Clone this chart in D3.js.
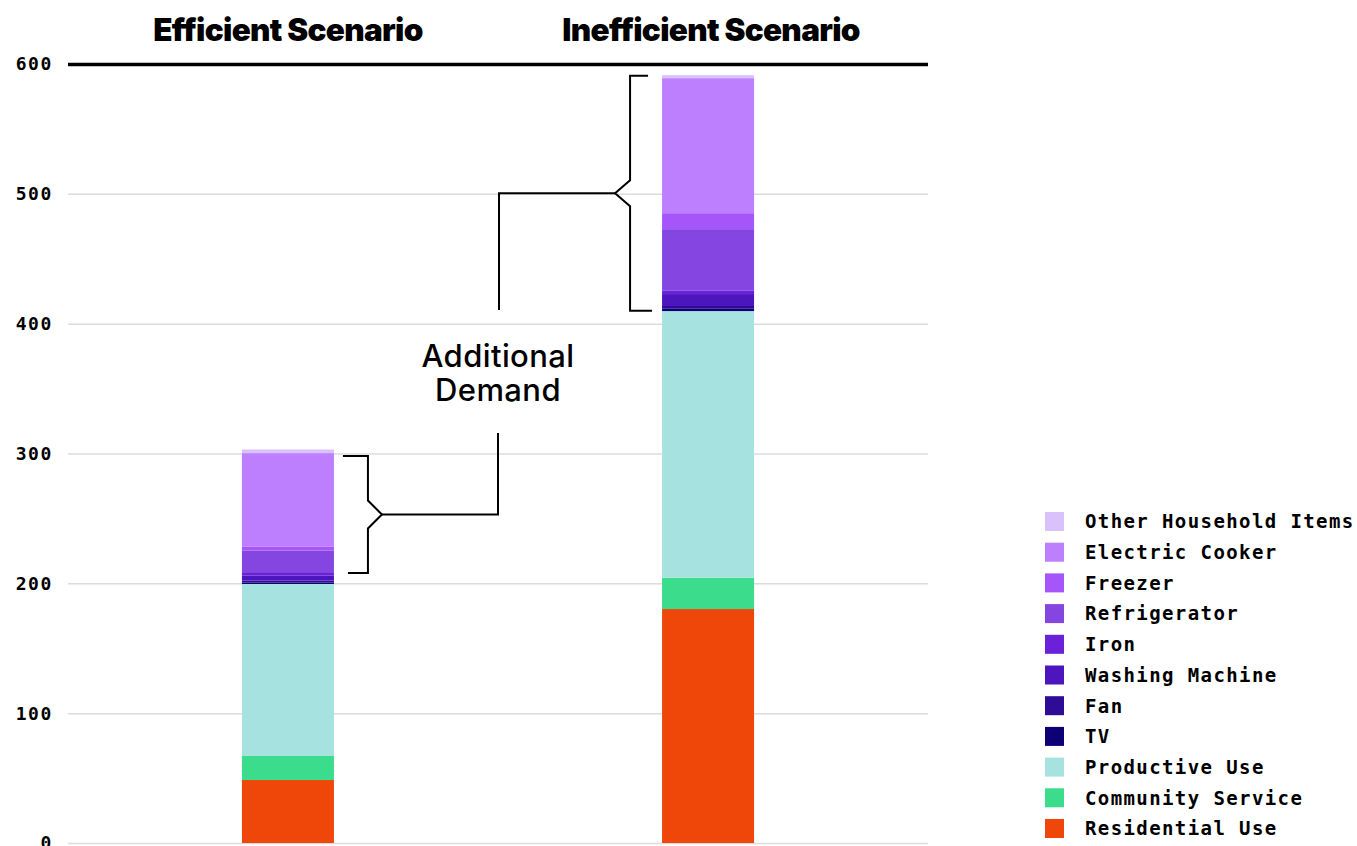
<!DOCTYPE html>
<html>
<head>
<meta charset="utf-8">
<script src="https://cdn.jsdelivr.net/npm/d3@7"></script>
<style>
  html, body { margin: 0; padding: 0; background: #fff; }
  svg { display: block; }
</style>
</head>
<body>
<div class="container"></div>
<script>
const scenarios = ['Efficient Scenario', 'Inefficient Scenario']
const seriesNames = ['Residential Use', 'Community Service', 'Productive Use', 'TV', 'Fan',
  'Washing Machine', 'Iron', 'Refrigerator', 'Freezer', 'Electric Cooker', 'Other Household Items']
const efficientValues = [48.5, 18.5, 132.5, 1.2, 1.5, 3.9, 2.5, 16.7, 3.1, 71.9, 2.8]
const inefficientValues = [180.2, 24.1, 205.4, 1.8, 2.1, 9.2, 2.5, 47.5, 12.3, 104, 2.3]
const seriesColors = ['#ef4609', '#3bdc8b', '#a6e3e0', '#0d0077', '#2f0c98', '#4c15be',
  '#6b21d9', '#8545e0', '#a655fa', '#be7ffe', '#d9c2fc']
const yTicks = [0, 100, 200, 300, 400, 500, 600]
const bracketRanges = [[208, 298], [410, 591]]
const annotationLines = ['Additional', 'Demand']

const w = 1357
const h = 846
const plotLeft = 68
const plotRight = 928
const plotTop = 64
const plotBottom = 843

const svg = d3.select('.container')
  .append('svg')
  .attr('width', w)
  .attr('height', h)

const rows = scenarios.map((s, i) => {
  const row = { scenario: s }
  seriesNames.forEach((n, j) => { row[n] = [efficientValues, inefficientValues][i][j] })
  return row
})

const stacked = d3.stack().keys(seriesNames)(rows)

const xScale = d3.scaleBand()
  .domain(scenarios)
  .range([plotLeft, plotRight])
  .paddingInner(0.781)
  .paddingOuter(0.414)

const yScale = d3.scaleLinear()
  .domain([0, 600])
  .range([plotBottom, plotTop])

const color = d3.scaleOrdinal().domain(seriesNames).range(seriesColors)

// grid
const grid = svg.append('g')
  .attr('transform', `translate(${plotLeft}, 0)`)
  .call(d3.axisLeft(yScale).tickValues(yTicks).tickSize(-(plotRight - plotLeft)).tickFormat(''))
grid.select('.domain').remove()
grid.selectAll('line')
  .attr('stroke', d => d === 600 ? '#000' : '#dcdcdc')
  .attr('stroke-width', d => d === 600 ? 3.5 : 1.5)

// tick labels
svg.append('g')
  .selectAll('text')
  .data(yTicks)
  .enter()
  .append('text')
  .attr('x', 53)
  .attr('y', d => yScale(d))
  .attr('dy', '0.36em')
  .attr('text-anchor', 'end')
  .attr('font-family', 'DejaVu Sans Mono, monospace')
  .attr('font-weight', 'bold')
  .attr('font-size', 18)
  .attr('letter-spacing', 1.6)
  .text(d => d)

// bars
svg.append('g')
  .selectAll('g')
  .data(stacked)
  .enter()
  .append('g')
  .attr('fill', d => color(d.key))
  .selectAll('rect')
  .data(d => d)
  .enter()
  .append('rect')
  .attr('x', d => xScale(d.data.scenario))
  .attr('width', xScale.bandwidth())
  .attr('y', d => yScale(d[1]))
  .attr('height', d => yScale(d[0]) - yScale(d[1]))

// titles
svg.append('g')
  .selectAll('text')
  .data(scenarios)
  .enter()
  .append('text')
  .attr('x', (d, i) => xScale(d) + xScale.bandwidth() / 2 + i * 3)
  .attr('y', 41)
  .attr('text-anchor', 'middle')
  .attr('font-family', 'Inter, sans-serif')
  .attr('font-weight', 900)
  .attr('font-size', 31.5)
  .attr('letter-spacing', -0.7)
  .text(d => d)

// brackets
const effX = xScale(scenarios[0]) + xScale.bandwidth()
const ineffX = xScale(scenarios[1])
const midX = (effX + ineffX) / 2
const b0 = bracketRanges[0].map(yScale)
const b1 = bracketRanges[1].map(yScale)
const m0 = (b0[0] + b0[1]) / 2
const m1 = (b1[0] + b1[1]) / 2
const line = d3.line()

const paths = [
  [[effX + 9, b0[1]], [effX + 34, b0[1]], [effX + 34, m0 - 14], [effX + 48, m0],
    [effX + 34, m0 + 14], [effX + 34, b0[0]], [effX + 14, b0[0]]],
  [[effX + 48, m0], [midX, m0], [midX, 433]],
  [[ineffX - 14, b1[1]], [ineffX - 32, b1[1]], [ineffX - 32, m1 - 13], [ineffX - 47, m1],
    [ineffX - 32, m1 + 13], [ineffX - 32, b1[0]], [ineffX - 10, b1[0]]],
  [[ineffX - 47, m1], [midX + 1, m1], [midX + 1, 310]]
]

svg.append('g')
  .selectAll('path')
  .data(paths)
  .enter()
  .append('path')
  .attr('d', d => line(d))
  .attr('fill', 'none')
  .attr('stroke', '#000')
  .attr('stroke-width', 2)

svg.append('text')
  .attr('x', midX)
  .attr('text-anchor', 'middle')
  .attr('font-family', 'Inter, sans-serif')
  .attr('font-weight', 500)
  .attr('font-size', 31)
  .attr('letter-spacing', 0.4)
  .selectAll('tspan')
  .data(annotationLines)
  .enter()
  .append('tspan')
  .attr('x', midX)
  .attr('y', (d, i) => 367 + i * 34)
  .text(d => d)

// legend
const legend = svg.append('g')
  .selectAll('g')
  .data(seriesNames.slice().reverse())
  .enter()
  .append('g')
  .attr('transform', (d, i) => `translate(1045, ${521.5 + i * 30.7})`)

legend.append('rect')
  .attr('x', 0)
  .attr('y', -9.5)
  .attr('width', 19)
  .attr('height', 19)
  .attr('fill', d => color(d))

legend.append('text')
  .attr('x', 40)
  .attr('dy', '0.36em')
  .attr('font-family', 'DejaVu Sans Mono, monospace')
  .attr('font-weight', 'bold')
  .attr('font-size', 19)
  .attr('letter-spacing', 1.4)
  .text(d => d)
</script>
</body>
</html>
